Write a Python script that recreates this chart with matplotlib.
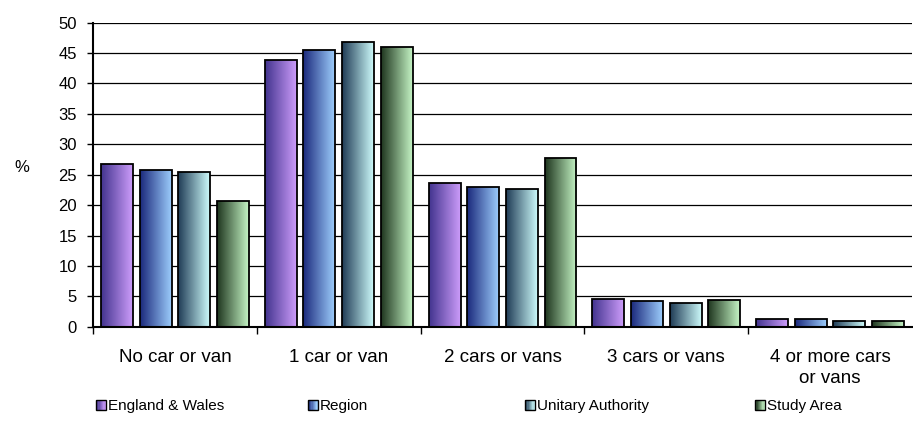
import numpy as np
import matplotlib
matplotlib.use("Agg")
import matplotlib.pyplot as plt
from matplotlib.colors import LinearSegmentedColormap
from matplotlib.patches import Rectangle, Patch
from matplotlib.legend_handler import HandlerBase

plt.rcParams['font.family'] = ['Liberation Sans', 'DejaVu Sans']

# data
categories = ["No car or van", "1 car or van", "2 cars or vans", "3 cars or vans", "4 or more cars\nor vans"]
series = ["England & Wales", "Region", "Unitary Authority", "Study Area"]
england_wales = [26.7, 43.8, 23.6, 4.5, 1.3]
region = [25.8, 45.5, 23.0, 4.3, 1.2]
unitary = [25.4, 46.8, 22.7, 3.9, 0.9]
study_area = [20.7, 46.0, 27.7, 4.4, 1.0]
values = [england_wales, region, unitary, study_area]

# gradient colours: dark (left) -> light (right)
grads = [("#43348f", "#cc9cfa"),
         ("#1b2a7c", "#9cccfc"),
         ("#203c56", "#ccfafa"),
         ("#1f361f", "#c4f4c4")]
cmaps = [LinearSegmentedColormap.from_list("g%d" % i, g) for i, g in enumerate(grads)]

fig = plt.figure(figsize=(9.13, 4.32), dpi=100)
ax = fig.add_axes([0.1019, 0.2437, 0.897, 0.7038])

grad = np.linspace(0, 1, 64).reshape(1, -1)
x = np.arange(len(categories)) + 0.5
width = 0.195
step = 0.236

for i, (vals, cm) in enumerate(zip(values, cmaps)):
    pos = x + (i - 1.5) * step
    bars = ax.bar(pos, vals, width, facecolor="none", edgecolor="black", linewidth=1.3, zorder=3)
    for b in bars:
        x0, y0 = b.get_x(), b.get_y()
        im = ax.imshow(grad, extent=(x0, x0 + b.get_width(), y0, y0 + b.get_height()),
                       aspect="auto", cmap=cm, zorder=2, interpolation="bilinear")
        im.set_clip_path(b)

ax.set_xlim(0, 5)
ax.set_ylim(0, 50)
ax.set_aspect("auto")
ax.set_yticks(np.arange(0, 51, 5))
ax.yaxis.grid(True, color="black", linewidth=0.9)
ax.set_axisbelow(True)

ax.set_xticks(np.arange(0, 5))
ax.set_xticklabels([])
ax.set_xticks(x, minor=True)
ax.set_xticklabels(categories, minor=True, fontsize=13.5, linespacing=1.3)
ax.tick_params(axis="x", which="major", length=5, width=1, direction="out")
ax.tick_params(axis="x", which="minor", length=0, pad=16)
ax.tick_params(axis="y", length=4.5, width=1, direction="out", labelsize=12, pad=7)

for s in ["top", "right"]:
    ax.spines[s].set_visible(False)
for s in ["left", "bottom"]:
    ax.spines[s].set_linewidth(1.5)

fig.text(0.024, 0.613, "%", fontsize=12, ha="center", va="center")


class GradHandler(HandlerBase):
    def __init__(self, cmap):
        super().__init__()
        self.cmap = cmap

    def create_artists(self, legend, orig_handle, xdescent, ydescent, width, height, fontsize, trans):
        arts = []
        n = 8
        for k in range(n):
            arts.append(Rectangle((-xdescent + k * width / n, -ydescent), width / n, height,
                                  facecolor=self.cmap(k / (n - 1)), edgecolor="none", transform=trans))
        arts.append(Rectangle((-xdescent, -ydescent), width, height, facecolor="none",
                              edgecolor="black", linewidth=1.0, transform=trans))
        return arts


legend_x = [0.105, 0.337, 0.575, 0.827]
for lx, name, cm in zip(legend_x, series, cmaps):
    h = Patch(label=name)
    fig.legend(handles=[h], labels=[name], loc="center left", bbox_to_anchor=(lx, 0.06),
               frameon=False, fontsize=11, handlelength=0.65, handleheight=0.65,
               handletextpad=0.15, borderpad=0, borderaxespad=0,
               handler_map={h: GradHandler(cm)})

fig.savefig("out.png", dpi=100)
